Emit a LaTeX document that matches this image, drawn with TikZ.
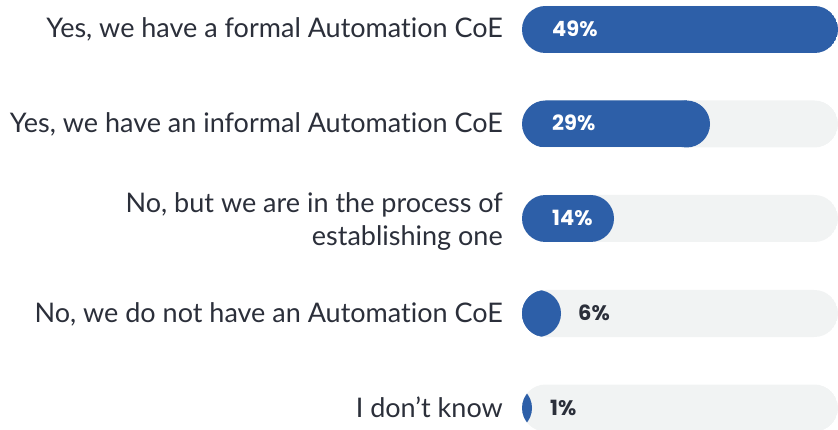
\documentclass[tikz,border=0pt]{standalone}
\usepackage{fontspec}
\setmainfont{Lato}[Ligatures={NoCommon,NoRare,NoContextual}]
\newfontfamily\pctfont{Poppins}
\definecolor{coeblue}{HTML}{2D5FA8}
\definecolor{coetrack}{HTML}{F1F3F3}
\definecolor{coetext}{HTML}{2B2F3A}

\begin{document}
\begin{tikzpicture}[x=1pt,y=-1pt]
\tikzset{AnswerStyle/.style={anchor=base east, inner sep=0pt, text=coetext, font=\fontsize{27}{33}\selectfont, align=right}}
\tikzset{PctStyle/.style={anchor=base west, inner sep=0pt, font=\pctfont\bfseries\fontsize{21}{25}\selectfont}}
\tikzset{TrackStyle/.style={fill=coetrack, rounded corners=23.5pt}}
\useasboundingbox (0,0) rectangle (838,430);
% formal
\begin{scope}
\clip[rounded corners=23.5pt] (522,6) rectangle (838,53);
\fill[TrackStyle] (522,6) rectangle (838,53);
\fill[coeblue] (500,6) rectangle (814.5,53);
\fill[coeblue] (814.5,29.5) circle[radius=23.5pt];
\end{scope}
\node[AnswerStyle] (formal) at (503,37.5) {Yes, we have a formal Automation CoE};
\node[PctStyle, text=white] (formal-pct) at (552,36.5) {49\%};
% informal
\begin{scope}
\clip[rounded corners=23.5pt] (522,100.5) rectangle (838,147.5);
\fill[TrackStyle] (522,100.5) rectangle (838,147.5);
\fill[coeblue] (500,100.5) rectangle (686.5,147.5);
\fill[coeblue] (686.5,124) circle[radius=23.5pt];
\end{scope}
\node[AnswerStyle] (informal) at (503,133) {Yes, we have an informal Automation CoE};
\node[PctStyle, text=white] (informal-pct) at (552,131) {29\%};
% in process
\begin{scope}
\clip[rounded corners=23.5pt] (522,195) rectangle (838,242);
\fill[TrackStyle] (522,195) rectangle (838,242);
\fill[coeblue] (500,195) rectangle (590.5,242);
\fill[coeblue] (590.5,218.5) circle[radius=23.5pt];
\end{scope}
\node[AnswerStyle] (process) at (503,213) {No, but we are in the process of};
\node[AnswerStyle] (process-2) at (503,246) {establishing one};
\node[PctStyle, text=white] (process-pct) at (552,225.5) {14\%};
% not have
\begin{scope}
\clip[rounded corners=23.5pt] (522,290) rectangle (838,337);
\fill[TrackStyle] (522,290) rectangle (838,337);
\fill[coeblue] (500,290) rectangle (537.5,337);
\fill[coeblue] (537.5,313.5) circle[radius=23.5pt];
\end{scope}
\node[AnswerStyle] (nothave) at (503,323) {No, we do not have an Automation CoE};
\node[PctStyle, text=coetext] (nothave-pct) at (578,320.5) {6\%};
% dont know
\begin{scope}
\clip[rounded corners=23.5pt] (522,384.5) rectangle (838,431.5);
\fill[TrackStyle] (522,384.5) rectangle (838,431.5);
\fill[coeblue] (508.5,408) circle[radius=23.5pt];
\end{scope}
\node[AnswerStyle] (dontknow) at (503,417) {I don’t know};
\node[PctStyle, text=coetext] (dontknow-pct) at (550,415) {1\%};
\end{tikzpicture}
\end{document}
